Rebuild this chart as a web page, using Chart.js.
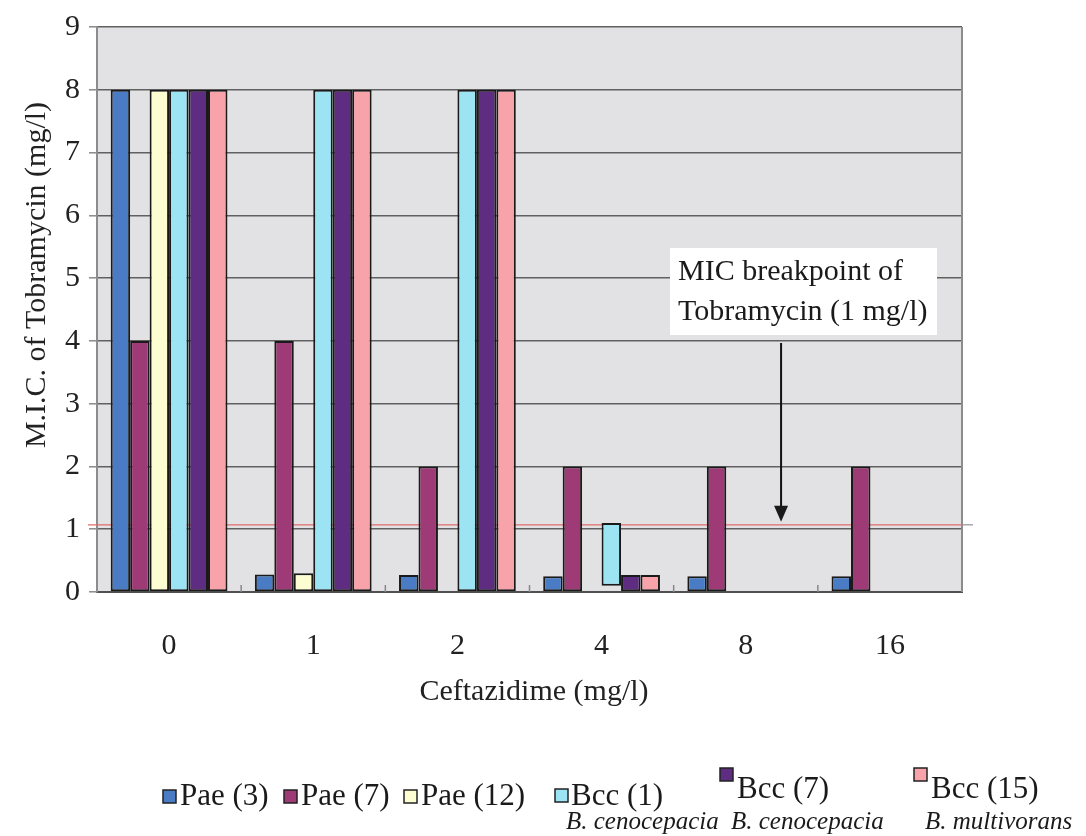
<!DOCTYPE html>
<html>
<head>
<meta charset="utf-8">
<script src="https://cdn.jsdelivr.net/npm/chart.js@4.4.1/dist/chart.umd.min.js"></script>
<style>
html,body{margin:0;padding:0;background:#fff;}
#wrap{width:1086px;height:836px;position:relative;}
</style>
</head>
<body>
<div id="wrap"><canvas id="c"></canvas></div>
<script>
// ---- data ----
const categories = ['0', '1', '2', '4', '8', '16'];
const seriesNames = ['Pae (3)', 'Pae (7)', 'Pae (12)', 'Bcc (1)', 'Bcc (7)', 'Bcc (15)'];
const seriesSubNames = ['', '', '', 'B. cenocepacia', 'B. cenocepacia', 'B. multivorans'];
const pae3  = [8, 0.28, 0.27, 0.25, 0.25, 0.25];
const pae7  = [4, 4, 2, 2, 2, 2];
const pae12 = [8, 0.3, null, null, null, null];
const bcc1  = [8, 8, 8, [0.1, 1.1], null, null];
const bcc7  = [8, 8, 8, 0.27, null, null];
const bcc15 = [8, 8, 8, 0.27, null, null];
const yTickValues = [0, 1, 2, 3, 4, 5, 6, 7, 8, 9];
const breakpointValue = 1.07;
const xTitle = 'Ceftazidime (mg/l)';
const yTitle = 'M.I.C. of Tobramycin (mg/l)';
const noteLines = ['MIC breakpoint of', 'Tobramycin (1 mg/l)'];

// ---- styles ----
const seriesColors = ['#4a7cc6', '#9e3a76', '#fdfdd2', '#9ce4f4', '#5e2d82', '#f8a3aa'];
const SERIF = "'Liberation Serif','Times New Roman',serif";
const seriesData = [pae3, pae7, pae12, bcc1, bcc7, bcc15];

const datasets = seriesData.map((d, i) => ({
  label: seriesNames[i],
  data: d,
  backgroundColor: seriesColors[i],
  borderColor: '#1a1a1a',
  borderWidth: 2,
  borderSkipped: false,
  categoryPercentage: 0.81,
  barPercentage: 1.0
}));

const decor = {
  id: 'decor',
  beforeDraw(chart) {
    const {ctx, chartArea: a} = chart;
    ctx.save();
    ctx.fillStyle = '#e2e2e4';
    ctx.fillRect(a.left, a.top, a.right - a.left, a.bottom - a.top);
    ctx.restore();
  },
  beforeDatasetsDraw(chart) {
    const {ctx, chartArea: a, scales: {x, y}} = chart;
    ctx.save();
    // right border
    ctx.strokeStyle = '#8c8c8c';
    ctx.lineWidth = 2;
    ctx.beginPath();
    ctx.moveTo(a.right, a.top); ctx.lineTo(a.right, a.bottom);
    ctx.stroke();
    // small inside tick marks at category boundaries
    const step = (a.right - a.left) / categories.length;
    ctx.strokeStyle = '#888';
    ctx.lineWidth = 1.5;
    for (let i = 1; i < categories.length; i++) {
      const px = a.left + i * step;
      ctx.beginPath();
      ctx.moveTo(px, a.bottom); ctx.lineTo(px, a.bottom - 7);
      ctx.stroke();
    }
    // breakpoint line
    const by = y.getPixelForValue(breakpointValue);
    ctx.strokeStyle = '#e06a6a';
    ctx.lineWidth = 1.3;
    ctx.beginPath();
    ctx.moveTo(a.left - 9, by); ctx.lineTo(a.right, by);
    ctx.stroke();
    ctx.strokeStyle = '#999';
    ctx.beginPath();
    ctx.moveTo(a.right, by); ctx.lineTo(a.right + 11, by);
    ctx.stroke();
    ctx.restore();
  },
  afterDatasetsDraw(chart) {
    const {ctx, chartArea: a, scales: {x, y}} = chart;
    ctx.save();
    // annotation box
    ctx.fillStyle = '#ffffff';
    ctx.fillRect(670, 248, 267, 87);
    ctx.fillStyle = '#1a1a1a';
    ctx.font = '30px ' + SERIF;
    ctx.textBaseline = 'middle';
    ctx.textAlign = 'left';
    ctx.fillText(noteLines[0], 678, 272);
    ctx.fillText(noteLines[1], 678, 312);
    // arrow
    const step = x.getPixelForValue(5) - x.getPixelForValue(4);
    const ax = x.getPixelForValue(4) + step * 0.245;
    const tipY = y.getPixelForValue(breakpointValue) - 3;
    ctx.strokeStyle = '#111';
    ctx.lineWidth = 2;
    ctx.beginPath();
    ctx.moveTo(ax, 343); ctx.lineTo(ax, tipY - 12);
    ctx.stroke();
    ctx.beginPath();
    ctx.moveTo(ax - 7, tipY - 16); ctx.lineTo(ax + 7, tipY - 16); ctx.lineTo(ax, tipY);
    ctx.closePath();
    ctx.fill();
    // axis titles
    ctx.fillStyle = '#222';
    ctx.font = '30px ' + SERIF;
    ctx.textAlign = 'center';
    ctx.textBaseline = 'middle';
    ctx.fillText(xTitle, 534, 692);
    ctx.save();
    ctx.translate(37, 275);
    ctx.rotate(-Math.PI / 2);
    ctx.fillText(yTitle, 0, 0);
    ctx.restore();
    // legend
    const legendPos = [
      {mx: 163, my: 790, tx: 180, ty: 797, sx: 0},
      {mx: 284, my: 790, tx: 301, ty: 797, sx: 0},
      {mx: 404, my: 790, tx: 421, ty: 797, sx: 0},
      {mx: 555, my: 789, tx: 571, ty: 797, sx: 566},
      {mx: 720, my: 768, tx: 737, ty: 790, sx: 731},
      {mx: 914, my: 768, tx: 931, ty: 790, sx: 925}
    ];
    legendPos.forEach((p, i) => {
      ctx.fillStyle = seriesColors[i];
      ctx.fillRect(p.mx, p.my, 13, 13);
      ctx.strokeStyle = '#222';
      ctx.lineWidth = 1.5;
      ctx.strokeRect(p.mx, p.my, 13, 13);
      ctx.fillStyle = '#1a1a1a';
      ctx.font = '31px ' + SERIF;
      ctx.textAlign = 'left';
      ctx.textBaseline = 'middle';
      ctx.fillText(seriesNames[i], p.tx, p.ty);
      if (seriesSubNames[i]) {
        ctx.font = 'italic 25px ' + SERIF;
        ctx.fillText(seriesSubNames[i], p.sx, 822);
      }
    });
    ctx.restore();
  }
};

new Chart(document.getElementById('c'), {
  type: 'bar',
  data: {labels: categories, datasets},
  options: {
    responsive: true,
    maintainAspectRatio: false,
    animation: false,
    layout: {padding: {left: 0, top: 18, right: 124, bottom: 0}},
    plugins: {legend: {display: false}, tooltip: {enabled: false}},
    scales: {
      x: {
        grid: {display: false, drawTicks: false},
        border: {display: true, color: '#505050', width: 2},
        ticks: {color: '#222', font: {family: SERIF, size: 30}, padding: 36},
        afterFit(s) { s.height = 244; }
      },
      y: {
        min: 0, max: 9,
        afterBuildTicks(s) { s.ticks = yTickValues.map(v => ({value: v})); },
        grid: {color: '#606060', lineWidth: 1.6, tickLength: 8, tickColor: '#8a8a8a', tickWidth: 1.5},
        border: {display: true, color: '#8c8c8c', width: 2},
        ticks: {color: '#222', font: {family: SERIF, size: 30}, padding: 9},
        afterFit(s) { s.width = 97; }
      }
    }
  },
  plugins: [decor]
});
</script>
</body>
</html>
